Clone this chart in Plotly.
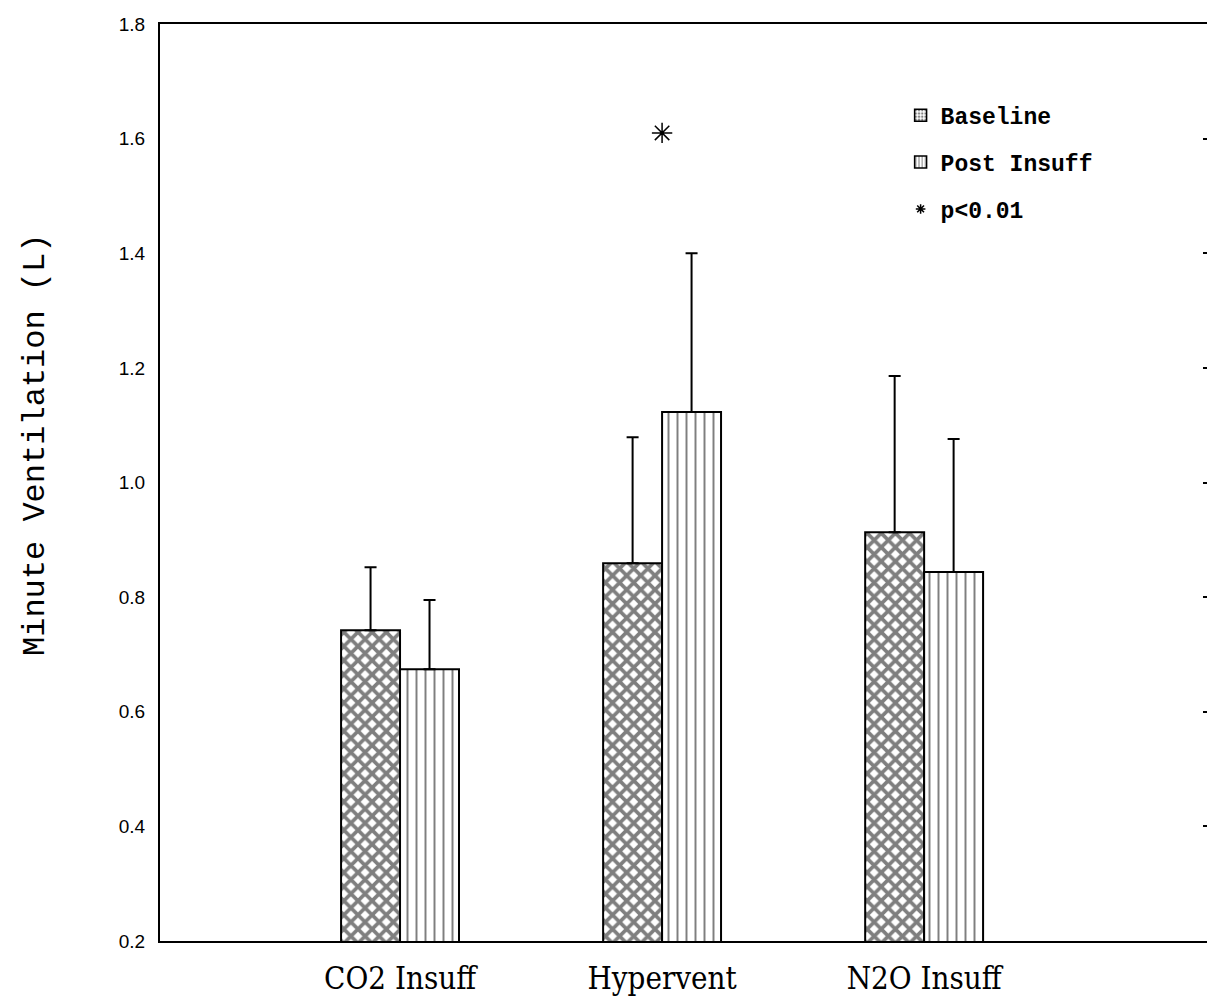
import plotly.graph_objects as go

categories = ["CO2 Insuff", "Hypervent", "N2O Insuff"]
baseline = [0.742, 0.859, 0.913]
baseline_err = [0.110, 0.220, 0.273]
post = [0.674, 1.123, 0.844]
post_err = [0.121, 0.277, 0.232]
sig_y = [None, 1.61, None]
y_ticks = [0.2, 0.4, 0.6, 0.8, 1.0, 1.2, 1.4, 1.6, 1.8]
y_tick_text = ["0.2", "0.4", "0.6", "0.8", "1.0", "1.2", "1.4", "1.6", "1.8"]

x = list(range(len(categories)))
W = 0.225

fig = go.Figure()
fig.add_trace(go.Bar(
    x=x, y=baseline, width=W, offset=-W, showlegend=False,
    marker=dict(color="white", line=dict(color="black", width=2),
                pattern=dict(shape="x", size=10, solidity=0.6, fgcolor="black", bgcolor="white")),
    error_y=dict(type="data", symmetric=False, array=baseline_err, arrayminus=[0]*3,
                 color="black", thickness=2, width=6),
))
fig.add_trace(go.Bar(
    x=x, y=post, width=W, offset=0, showlegend=False,
    marker=dict(color="white", line=dict(color="black", width=2),
                pattern=dict(shape="|", size=9, solidity=0.22, fgcolor="black", bgcolor="white")),
    error_y=dict(type="data", symmetric=False, array=post_err, arrayminus=[0]*3,
                 color="black", thickness=2, width=6),
))
fig.add_trace(go.Scatter(
    x=x, y=sig_y, mode="markers", showlegend=False,
    marker=dict(symbol="asterisk-open", size=17, color="black", line=dict(color="black", width=1.5)),
))
# legend entries
fig.add_trace(go.Bar(x=[None], y=[None], name="Baseline", legendgroup="a",
    marker=dict(color="white", line=dict(color="black", width=1.5),
                pattern=dict(shape=".", size=4, solidity=0.4, fgcolor="black", bgcolor="white"))))
fig.add_trace(go.Bar(x=[None], y=[None], name="Post Insuff", legendgroup="b",
    marker=dict(color="white", line=dict(color="black", width=1.5),
                pattern=dict(shape="|", size=4, solidity=0.3, fgcolor="black", bgcolor="white"))))
fig.add_trace(go.Scatter(x=[None], y=[None], name="p<0.01", mode="markers", legendgroup="c",
    marker=dict(symbol="asterisk-open", size=8, color="black", line=dict(color="black", width=1.5))))
fig.add_trace(go.Scatter(x=[None], y=[None], yaxis="y2", showlegend=False))

W_FIG, H_FIG = 1207, 990
fig.update_layout(
    width=W_FIG, height=H_FIG,
    margin=dict(l=152, r=0, t=16, b=57),
    paper_bgcolor="white", plot_bgcolor="white",
    barmode="overlay",
    font=dict(family="Liberation Sans", color="black"),
    legend=dict(x=0.702, y=0.924, xanchor="left", yanchor="top",
                font=dict(family="Liberation Mono", size=23, color="black", weight="bold"),
                tracegroupgap=14, bgcolor="rgba(0,0,0,0)"),
    xaxis=dict(range=[-0.916, 3.11], tickvals=x, ticktext=categories,
               showline=True, linecolor="black", linewidth=2, mirror=True,
               showgrid=False, zeroline=False, ticks="", automargin=False,
               ticklabelstandoff=9,
               tickfont=dict(family="DejaVu Serif Condensed, Liberation Serif", size=31)),
    yaxis=dict(range=[0.2, 1.8], tickvals=y_ticks, ticktext=y_tick_text,
               showline=True, linecolor="black", linewidth=2, mirror=False,
               showgrid=False, zeroline=False, ticks="", automargin=False,
               ticklabelstandoff=9,
               tickfont=dict(family="Liberation Sans", size=19)),
    yaxis2=dict(range=[0.2, 1.8], overlaying="y", side="right",
                tickvals=y_ticks[1:-1], showticklabels=False, ticks="inside",
                ticklen=12, tickwidth=2, tickcolor="black", automargin=False,
                showgrid=False, zeroline=False, showline=False),
    annotations=[dict(text="Minute Ventilation (L)", textangle=-90,
                      xref="paper", yref="paper",
                      x=(27 - 152) / (W_FIG - 152), y=1 - (437 - 16) / (H_FIG - 16 - 57),
                      xanchor="center", yanchor="middle", showarrow=False,
                      font=dict(family="Liberation Mono", size=32, color="black"))],
)

fig.write_html("out.html")
